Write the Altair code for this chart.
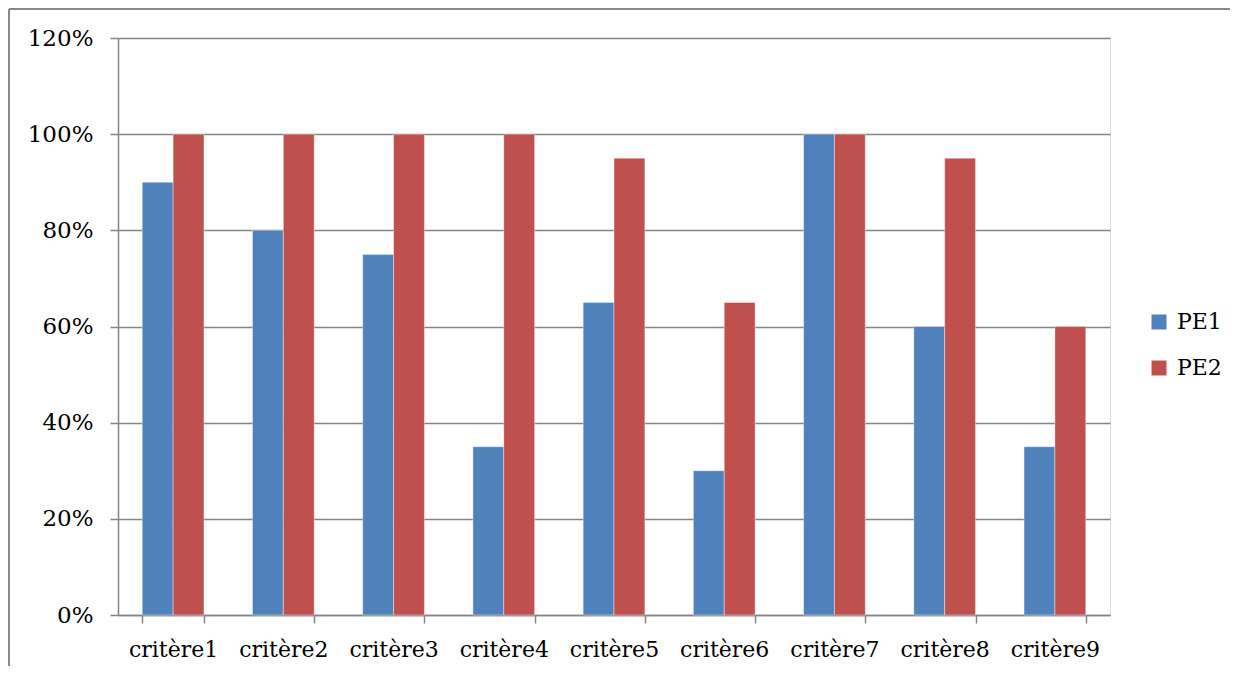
import altair as alt
import pandas as pd

categories = ["critère1", "critère2", "critère3", "critère4", "critère5",
              "critère6", "critère7", "critère8", "critère9"]
pe1 = [0.90, 0.80, 0.75, 0.35, 0.65, 0.30, 1.00, 0.60, 0.35]
pe2 = [1.00, 1.00, 1.00, 1.00, 0.95, 0.65, 1.00, 0.95, 0.60]
series = ["PE1", "PE2"]
colors = ["#4F81BD", "#C0504D"]

rows = []
for c, a, b in zip(categories, pe1, pe2):
    rows.append({"cat": c, "serie": "PE1", "val": a})
    rows.append({"cat": c, "serie": "PE2", "val": b})
df = pd.DataFrame(rows)

FONT = "DejaVu Serif"
W, H = 992, 577

bars = alt.Chart(df).mark_bar(stroke="white", strokeWidth=0.4).encode(
    x=alt.X("cat:N", sort=categories, title=None,
            scale=alt.Scale(paddingInner=0.44, paddingOuter=0.22),
            axis=alt.Axis(labelAngle=0, tickBand="extent", tickSize=8,
                          labelPadding=16, labelFontSize=22, labelFont=FONT,
                          labelColor="black", domainColor="#858585",
                          tickColor="#858585", domainWidth=1.5, tickWidth=1.5,
                          grid=False)),
    xOffset=alt.XOffset("serie:N", sort=series),
    y=alt.Y("val:Q", title=None,
            scale=alt.Scale(domain=[0, 1.2], nice=False),
            axis=alt.Axis(format=".0%", values=[0, 0.2, 0.4, 0.6, 0.8, 1.0, 1.2],
                          tickSize=8, labelPadding=17, labelFontSize=23,
                          labelFont=FONT, labelColor="black",
                          domainColor="#858585", tickColor="#858585",
                          gridColor="#858585", gridWidth=1.5,
                          domainWidth=1.5, tickWidth=1.5)),
    color=alt.Color("serie:N", sort=series,
                    scale=alt.Scale(domain=series, range=colors),
                    legend=alt.Legend(title=None, orient="none",
                                      legendX=1030, legendY=273,
                                      symbolType="square", symbolSize=225,
                                      symbolStrokeWidth=0, labelOffset=7,
                                      labelFontSize=22, labelFont=FONT,
                                      labelColor="black", rowPadding=24)),
)

one = pd.DataFrame({"a": [0]})
top_line = alt.Chart(one).mark_rule(stroke="#8a8a8a", strokeWidth=2).encode(
    x=alt.value(-109), x2=alt.value(1112), y=alt.value(-29)
)
left_line = alt.Chart(one).mark_rule(stroke="#8a8a8a", strokeWidth=2).encode(
    x=alt.value(-109), y=alt.value(-29), y2=alt.value(628)
)

chart = alt.layer(top_line, left_line, bars).properties(
    width=W, height=H, padding=0
).configure_view(stroke=None).configure(background="white")

chart.save("out.html", embed_options={"renderer": "svg", "actions": False})
